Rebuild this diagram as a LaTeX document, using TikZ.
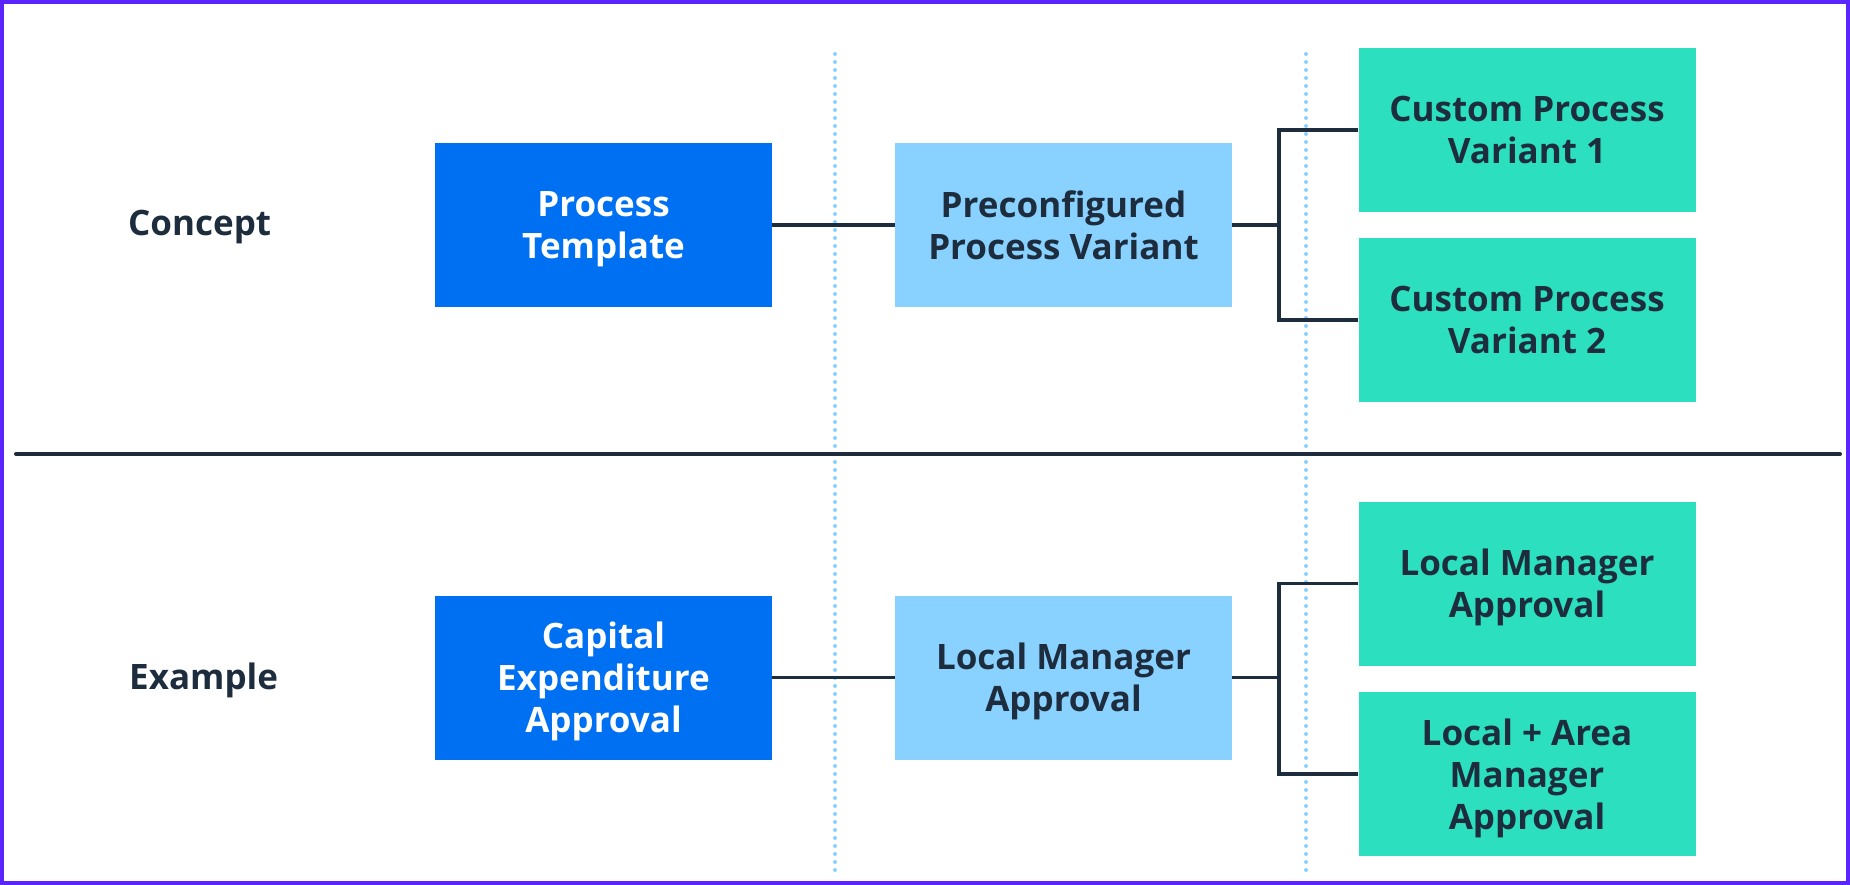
\documentclass[tikz,border=0pt]{standalone}
\usepackage{fontspec}
\setmainfont{Open Sans}
\definecolor{frame}{HTML}{5A24FF}
\definecolor{ink}{HTML}{1D2D3E}
\definecolor{darkblue}{HTML}{0070F2}
\definecolor{lightblue}{HTML}{89D1FF}
\definecolor{teal}{HTML}{2CE0BF}
\begin{document}
\begin{tikzpicture}[x=1pt,y=-1pt,
  box/.style={rectangle, minimum width=337pt, minimum height=164pt, inner sep=0pt,
    align=center, text depth=0pt, text=ink, font=\fontsize{35}{42}\selectfont\bfseries},
  rowlabel/.style={anchor=west, inner sep=0pt, text=ink, font=\fontsize{35}{42}\selectfont\bfseries},
  link/.style={draw=ink, line width=3.5pt},
  guide/.style={draw=lightblue, line width=4pt, line cap=round, dash pattern=on 0pt off 8pt}]
  \useasboundingbox (0,0) rectangle (1850,885);
  \fill[white] (0,0) rectangle (1850,885);
  \draw[frame, line width=4pt] (2,2) rectangle (1848,883);
  % guides and divider
  \draw[guide] (835,54) -- (835,873);
  \draw[guide] (1306,54) -- (1306,873);
  \draw[ink, line width=4pt, line cap=round] (16,454) -- (1840,454);
  % concept row
  \node[rowlabel] (concept) at (128,227) {Concept};
  \node[box, fill=darkblue, text=white] (PT) at (603.5,225) {Process\\Template};
  \node[box, fill=lightblue] (PV) at (1063.5,225) {Preconfigured\\Process Variant};
  \node[box, fill=teal] (C1) at (1527,130) {Custom Process\\Variant 1};
  \node[box, fill=teal] (C2) at (1527,320) {Custom Process\\Variant 2};
  \draw[link] (PT) -- (PV);
  \draw[link] (PV.east) -- ++(47,0) |- (C1.west);
  \draw[link] (PV.east) -- ++(47,0) |- (C2.west);
  % example row
  \node[rowlabel] (example) at (129,680) {Example};
  \node[box, fill=darkblue, text=white] (CE) at (603.5,677.5) {Capital\\Expenditure\\Approval};
  \node[box, fill=lightblue] (LM) at (1063.5,677.5) {Local Manager\\Approval};
  \node[box, fill=teal] (L1) at (1527,583.5) {Local Manager\\Approval};
  \node[box, fill=teal] (L2) at (1527,774) {Local + Area\\Manager\\Approval};
  \draw[link] (CE) -- (LM);
  \draw[link] (LM.east) -- ++(47,0) |- (L1.west);
  \draw[link] (LM.east) -- ++(47,0) |- (L2.west);
\end{tikzpicture}
\end{document}
